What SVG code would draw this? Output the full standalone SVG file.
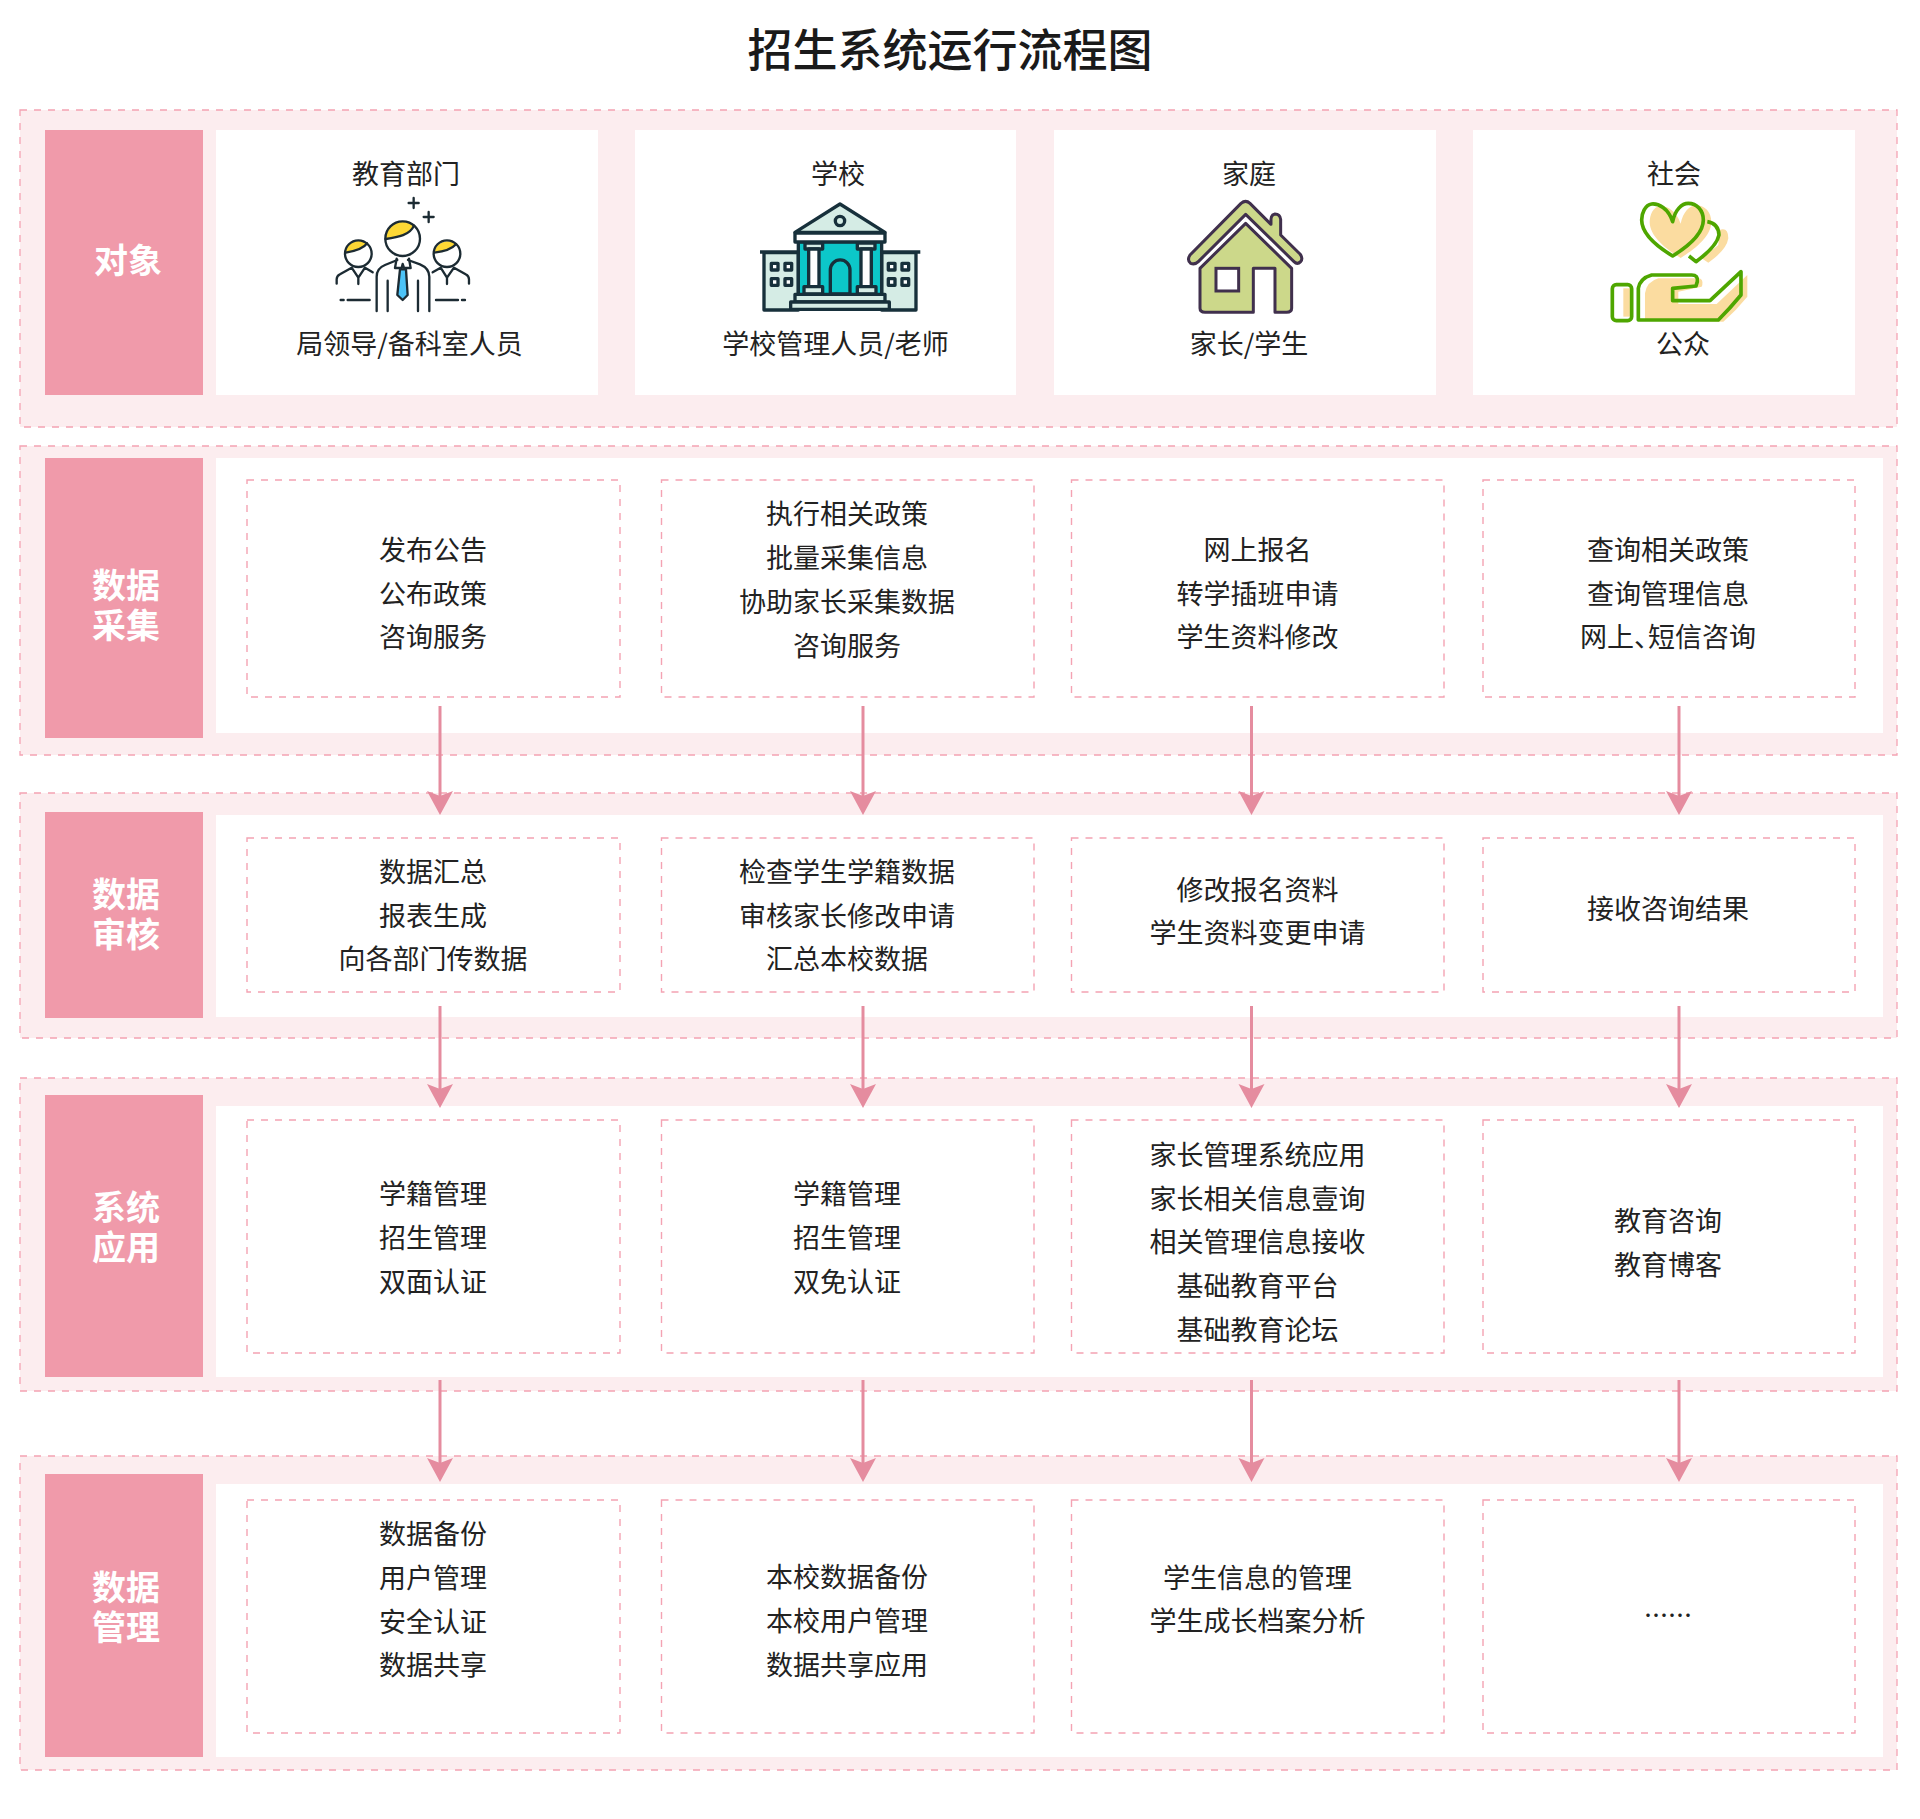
<svg xmlns="http://www.w3.org/2000/svg" width="1920" height="1819" viewBox="0 0 1920 1819">
<style>
text{font-family:"Noto Sans CJK SC","Noto Sans",sans-serif;text-anchor:middle}
.t{font-size:27px;fill:#222}
.h{font-size:45px;fill:#1a1a1a;font-weight:500}
.l{font-size:34px;fill:#fff;font-weight:700}
.p{fill:#fcedef;stroke:#f4a3b3;stroke-width:1.3;stroke-dasharray:7 7}
.w{fill:#fff}
.b{fill:#f09aaa}
.d{fill:#fff;stroke:#f4a3b3;stroke-width:1.4;stroke-dasharray:7 7}
.a{stroke:#e58c9f;stroke-width:3;fill:none;marker-end:url(#arr)}
.i1{fill:none;stroke:#1c2b33;stroke-width:7;stroke-linecap:round;stroke-linejoin:round}
.i2{stroke:#17303b;stroke-width:10;stroke-linejoin:round}
.i3{fill:#ccd88a;stroke:#40304d;stroke-width:9;stroke-linejoin:round}
.i4{fill:none;stroke:#4ea600;stroke-width:11;stroke-linejoin:round}
</style>
<defs>
<marker id="arr" markerUnits="userSpaceOnUse" markerWidth="26" markerHeight="28" refX="6" refY="14" orient="auto" viewBox="0 0 26 28">
<path d="M1,1L6,14L1,27L25,14Z" fill="#e58c9f"/>
</marker>
</defs>
<rect width="1920" height="1819" fill="#fff"/>
<text class="h" x="950" y="67">招生系统运行流程图</text>

<g id="row-objects">
<rect class="p" x="20" y="110" width="1877" height="317"/>
<rect class="b" x="45" y="130" width="158" height="265"/>
<text class="l" x="128" y="273">对象</text>
</g>
<g id="row-collect">
<rect class="p" x="20" y="446" width="1877" height="309"/>
<rect class="w" x="216" y="458" width="1667" height="275"/>
<rect class="b" x="45" y="458" width="158" height="280"/>
<text class="l" x="126" y="598">数据</text><text class="l" x="126" y="638">采集</text>
</g>
<g id="row-audit">
<rect class="p" x="20" y="793" width="1877" height="245"/>
<rect class="w" x="216" y="815" width="1667" height="202"/>
<rect class="b" x="45" y="812" width="158" height="206"/>
<text class="l" x="126" y="907">数据</text><text class="l" x="126" y="947">审核</text>
</g>
<g id="row-apply">
<rect class="p" x="20" y="1078" width="1877" height="313"/>
<rect class="w" x="216" y="1106" width="1667" height="271"/>
<rect class="b" x="45" y="1095" width="158" height="282"/>
<text class="l" x="126" y="1220">系统</text><text class="l" x="126" y="1260">应用</text>
</g>
<g id="row-manage">
<rect class="p" x="20" y="1456" width="1877" height="314"/>
<rect class="w" x="216" y="1484" width="1667" height="273"/>
<rect class="b" x="45" y="1474" width="158" height="283"/>
<text class="l" x="126" y="1600">数据</text><text class="l" x="126" y="1640">管理</text>
</g>

<g id="obj-edu">
<rect class="w" x="216" y="130" width="382" height="265"/>
<text class="t" x="406" y="184">教育部门</text>
<g transform="translate(320 180) scale(.3333)">
<path d="M197,177A52,52 0 0 1 282,137C270,165 235,172 197,177Z" fill="#fdd835"/>
<path d="M77,218A40,40 0 0 1 141,190C130,207 105,213 77,218Z" fill="#fdd835"/>
<path d="M343,218A40,40 0 0 1 408,193C395,208 370,215 343,218Z" fill="#fdd835"/>
<path d="M240,268H258L263,345L248,360L232,345Z" fill="#4cc3f7"/>
<g class="i1">
<circle cx="248" cy="176" r="52"/><circle cx="115" cy="221" r="40"/><circle cx="381" cy="221" r="40"/>
<path d="M197,177C235,172 270,165 282,137M77,218C105,213 130,207 141,190M343,218C370,215 395,208 408,193"/>
<path d="M266,69H296M281,54V84M311,111H341M326,96V126"/>
<path d="M170,393V290Q170,265 195,255L232,240M264,240L300,253Q328,265 328,290V393"/>
<path d="M230,236L225,264H245L248,252L252,264H272L267,236"/>
<path d="M240,268H258L263,345L248,360L232,345Z"/>
<path d="M203,302V393M294,302V393"/>
<path d="M50,311V298Q50,288 60,283L95,263L115,293L135,263L158,277M115,293V312"/>
<path d="M338,277L362,263L381,293L402,263L437,283Q447,288 447,298V311M381,293V312"/>
<path d="M62,360H71M83,360H149M348,360H414M426,360H435"/>
</g></g>
<text class="t" x="409.500" y="354">局领导/备科室人员</text>
</g>
<g id="obj-school">
<rect class="w" x="635" y="130" width="381" height="265"/>
<text class="t" x="838" y="184">学校</text>
<g transform="translate(740 170) scale(.3333)">
<path class="i2" d="M72,248H175V420H72ZM425,248H528V420H425Z" fill="#d5ece5"/>
<path d="M60,246H175M425,246H541" stroke="#17303b" stroke-width="10" fill="none"/>
<rect class="i2" x="175" y="215" width="250" height="160" fill="#0cc7c9"/>
<path class="i2" d="M300,102L165,187H435Z" fill="#d5ece5"/>
<circle class="i2" cx="300" cy="153" r="14" fill="#d5ece5"/>
<rect class="i2" x="165" y="189" width="270" height="27" fill="#fff"/>
<g class="i2" fill="#fff">
<rect x="195" y="219" width="53" height="18" fill="#d5ece5"/><rect x="206" y="237" width="31" height="113"/><rect x="192" y="350" width="56" height="22" fill="#d5ece5"/>
<rect x="352" y="219" width="53" height="18" fill="#d5ece5"/><rect x="363" y="237" width="31" height="113"/><rect x="352" y="350" width="56" height="22" fill="#d5ece5"/>
</g>
<path class="i2" d="M271,372V300A29,30 0 0 1 330,300V372Z" fill="#0cc7c9"/>
<g class="i2" fill="#d5ece5">
<rect x="165" y="373" width="270" height="23"/><rect x="152" y="396" width="296" height="22"/>
<g fill="#fff"><rect x="94" y="280" width="20" height="20"/><rect x="135" y="280" width="20" height="20"/><rect x="94" y="326" width="20" height="20"/><rect x="135" y="326" width="20" height="20"/>
<rect x="445" y="280" width="20" height="20"/><rect x="486" y="280" width="20" height="20"/><rect x="445" y="326" width="20" height="20"/><rect x="486" y="326" width="20" height="20"/></g>
</g></g>
<text class="t" x="835.500" y="354">学校管理人员/老师</text>
</g>
<g id="obj-family">
<rect class="w" x="1054" y="130" width="382" height="265"/>
<text class="t" x="1249" y="184">家庭</text>
<g transform="translate(1170 180) scale(.3333)">
<path class="i3" d="M213,70L60,225Q50,240 62,250Q75,255 85,245L227,103L372,245Q382,255 392,245Q400,235 390,222L332,165V118Q330,102 315,102Q303,105 303,118V133L240,70Q227,58 213,70Z"/>
<path class="i3" d="M90,265L227,130L365,265V385Q365,397 350,397H315V265H250V397H105Q90,397 90,385Z"/>
<rect x="138" y="265" width="68" height="68" fill="#fff" stroke="#40304d" stroke-width="9"/>
</g>
<text class="t" x="1249" y="354">家长/学生</text>
</g>
<g id="obj-society">
<rect class="w" x="1473" y="130" width="382" height="265"/>
<text class="t" x="1674" y="184">社会</text>
<g transform="translate(1590 180) scale(.3333)">
<path d="M248,125C235,85 205,70 185,72C165,75 155,100 155,120C155,165 210,205 248,228C285,205 340,165 340,120C340,90 320,70 295,70C275,70 255,90 248,125Z" fill="#fbdca0" transform="translate(24 6)"/>
<path d="M388,150Q415,140 415,175Q410,210 355,248L335,235L385,195Z" fill="#fbdca0"/>
<path d="M100,325H125V410H100Z" fill="#fbdca0"/>
<path d="M165,420V340Q170,305 205,295H325Q340,295 337,315L335,320L265,335V372H380L472,285V350Q440,390 400,425Z" fill="#fbdca0"/>
<g class="i4">
<path d="M248,125C235,85 205,70 185,72C165,75 155,100 155,120C155,165 210,205 248,228C285,205 340,165 340,120C340,90 320,70 295,70C275,70 255,90 248,125Z"/>
<path d="M352,125Q385,130 387,165Q380,200 318,245L297,228"/>
<rect x="67" y="314" width="58" height="108" rx="12"/>
<path d="M145,420V325Q150,295 185,285H305Q325,285 322,305L318,318L248,325V362H360L453,275V345Q420,385 385,420Z"/>
</g></g>
<text class="t" x="1683" y="354">公众</text>
</g>

<g id="c-1-1"><rect class="d" x="247" y="480" width="373" height="217"/><text class="t" x="433" y="560">发布公告</text><text class="t" x="433" y="604">公布政策</text><text class="t" x="433" y="647">咨询服务</text></g>
<g id="c-1-2"><rect class="d" x="661.500" y="480" width="372.500" height="217"/><text class="t" x="847" y="524">执行相关政策</text><text class="t" x="847" y="568">批量采集信息</text><text class="t" x="847" y="612">协助家长采集数据</text><text class="t" x="847" y="656">咨询服务</text></g>
<g id="c-1-3"><rect class="d" x="1071.500" y="480" width="372.500" height="217"/><text class="t" x="1257.500" y="560">网上报名</text><text class="t" x="1257.500" y="604">转学插班申请</text><text class="t" x="1257.500" y="647">学生资料修改</text></g>
<g id="c-1-4"><rect class="d" x="1483" y="480" width="372" height="217"/><text class="t" x="1668" y="560">查询相关政策</text><text class="t" x="1668" y="604">查询管理信息</text><text class="t" x="1668" y="647">网上、<tspan dx="-13">短信咨询</tspan></text></g>

<g id="c-2-1"><rect class="d" x="247" y="838" width="373" height="154"/><text class="t" x="433" y="882">数据汇总</text><text class="t" x="433" y="926">报表生成</text><text class="t" x="433" y="969">向各部门传数据</text></g>
<g id="c-2-2"><rect class="d" x="661.500" y="838" width="372.500" height="154"/><text class="t" x="847" y="882">检查学生学籍数据</text><text class="t" x="847" y="926">审核家长修改申请</text><text class="t" x="847" y="969">汇总本校数据</text></g>
<g id="c-2-3"><rect class="d" x="1071.500" y="838" width="372.500" height="154"/><text class="t" x="1257.500" y="900">修改报名资料</text><text class="t" x="1257.500" y="943">学生资料变更申请</text></g>
<g id="c-2-4"><rect class="d" x="1483" y="838" width="372" height="154"/><text class="t" x="1668" y="919">接收咨询结果</text></g>

<g id="c-3-1"><rect class="d" x="247" y="1120" width="373" height="233"/><text class="t" x="433" y="1204">学籍管理</text><text class="t" x="433" y="1248">招生管理</text><text class="t" x="433" y="1292">双面认证</text></g>
<g id="c-3-2"><rect class="d" x="661.500" y="1120" width="372.500" height="233"/><text class="t" x="847" y="1204">学籍管理</text><text class="t" x="847" y="1248">招生管理</text><text class="t" x="847" y="1292">双免认证</text></g>
<g id="c-3-3"><rect class="d" x="1071.500" y="1120" width="372.500" height="233"/><text class="t" x="1257.500" y="1165">家长管理系统应用</text><text class="t" x="1257.500" y="1209">家长相关信息壹询</text><text class="t" x="1257.500" y="1252">相关管理信息接收</text><text class="t" x="1257.500" y="1296">基础教育平台</text><text class="t" x="1257.500" y="1340">基础教育论坛</text></g>
<g id="c-3-4"><rect class="d" x="1483" y="1120" width="372" height="233"/><text class="t" x="1668" y="1231">教育咨询</text><text class="t" x="1668" y="1275">教育博客</text></g>

<g id="c-4-1"><rect class="d" x="247" y="1500" width="373" height="233"/><text class="t" x="433" y="1544">数据备份</text><text class="t" x="433" y="1588">用户管理</text><text class="t" x="433" y="1632">安全认证</text><text class="t" x="433" y="1675">数据共享</text></g>
<g id="c-4-2"><rect class="d" x="661.500" y="1500" width="372.500" height="233"/><text class="t" x="847" y="1587">本校数据备份</text><text class="t" x="847" y="1631">本校用户管理</text><text class="t" x="847" y="1675">数据共享应用</text></g>
<g id="c-4-3"><rect class="d" x="1071.500" y="1500" width="372.500" height="233"/><text class="t" x="1257.500" y="1588">学生信息的管理</text><text class="t" x="1257.500" y="1631">学生成长档案分析</text></g>
<g id="c-4-4"><rect class="d" x="1483" y="1500" width="372" height="233"/><text class="t" x="1668" y="1624" style="font-size:24px;font-weight:500">……</text></g>

<g id="connectors">
<path class="a" d="M440,706V796"/><path class="a" d="M863,706V796"/><path class="a" d="M1251.500,706V796"/><path class="a" d="M1679,706V796"/>
<path class="a" d="M440,1006V1089"/><path class="a" d="M863,1006V1089"/><path class="a" d="M1251.500,1006V1089"/><path class="a" d="M1679,1006V1089"/>
<path class="a" d="M440,1380V1463"/><path class="a" d="M863,1380V1463"/><path class="a" d="M1251.500,1380V1463"/><path class="a" d="M1679,1380V1463"/>
</g>
</svg>
